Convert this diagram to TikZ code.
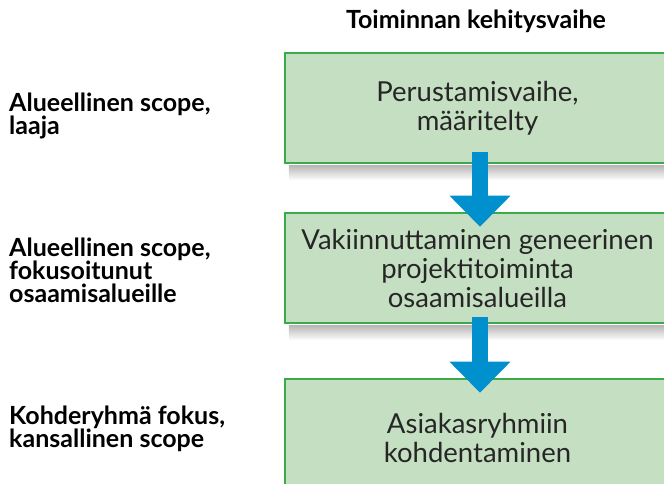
\documentclass[tikz,border=0pt]{standalone}
\usepackage{fontspec}
\setmainfont{Lato}
\usetikzlibrary{arrows.meta,calc}
\definecolor{boxfill}{RGB}{196,223,193}
\definecolor{boxline}{RGB}{58,170,74}
\definecolor{arrowblue}{RGB}{0,144,206}
\begin{document}
\begin{tikzpicture}[x=1pt,y=1pt,
  stage/.style={draw=boxline, line width=2.5pt, fill=boxfill, minimum width=385pt,
    minimum height=110pt, align=center, inner sep=0pt,
    font=\fontsize{27.5}{29}\selectfont, text=black!85},
  side/.style={anchor=north west, inner sep=0pt, align=left,
    font=\bfseries\fontsize{25}{23}\selectfont},
  flow/.style={draw=arrowblue, line width=16pt, -{Triangle[width=59pt,length=31pt]}},
  shadowstrip/.style={top color=black!28, bottom color=white}]
\useasboundingbox (0,0) rectangle (664,484);
\clip (0,0) rectangle (664,484);
\fill[white] (0,0) rectangle (664,484);
% boxes
\node[stage] (b1) at (477.5,376) {Perustamisvaihe,\\määritelty};
\node[stage] (b2) at (477.5,216) {Vakiinnuttaminen geneerinen\\projektitoiminta\\osaamisalueilla};
\node[stage, minimum height=118pt] (b3) at (477.5,46) {Asiakasryhmiin\\kohdentaminen};
% shadows
\shade[shadowstrip] ($(b1.south west)+(5,-1.25)$) rectangle ($(b1.south east)+(0,-16)$);
\shade[shadowstrip] ($(b2.south west)+(5,-1.25)$) rectangle ($(b2.south east)+(0,-16)$);
% arrows
\draw[flow] ($(b1.south)+(2.5,12)$) -- ($(b2.north)+(2.5,-15)$);
\draw[flow] ($(b2.south)+(2.5,7)$) -- ($(b3.north)+(2.5,-15)$);
% title and side labels
\node[font=\bfseries\fontsize{25}{23}\selectfont] (title) at (476,463) {Toiminnan kehitysvaihe};
\node[side] (l1) at (9,391) {Alueellinen scope,\\laaja};
\node[side] (l2) at (9,246) {Alueellinen scope,\\fokusoitunut\\osaamisalueille};
\node[side] (l3) at (9,78) {Kohderyhmä fokus,\\kansallinen scope};
\end{tikzpicture}
\end{document}
